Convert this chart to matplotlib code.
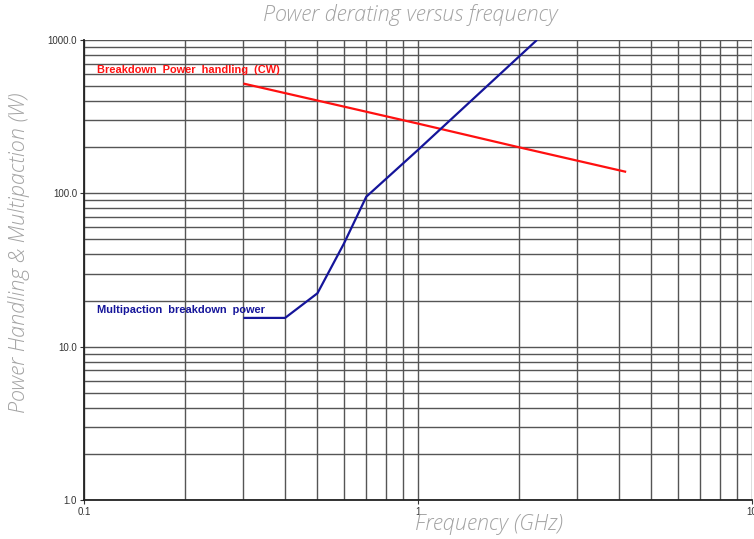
import matplotlib
matplotlib.use("Agg")
import matplotlib.pyplot as plt
from matplotlib.ticker import FixedLocator, NullFormatter

# Data (frequency in GHz, power in W)
cw_freq = [0.3, 1.0, 2.0, 4.2]
cw_power = [520, 285, 200, 138]

mp_freq = [0.3, 0.4, 0.5, 0.6, 0.7, 1.0, 2.0, 2.27]
mp_power = [15.4, 15.4, 22.3, 47, 95, 192, 775, 1000]

x_ticks = [0.1, 1, 10]
x_ticklabels = ["0.1", "1", "10"]
y_ticks = [1, 10, 100, 1000]
y_ticklabels = ["1.0", "10.0", "100.0", "1000.0"]

title = "Power derating versus frequency"
xlabel = "Frequency (GHz)"
ylabel = "Power Handling & Multipaction (W)"
cw_label = "Breakdown  Power  handling  (CW)"
mp_label = "Multipaction  breakdown  power"

W, H = 754, 539
fig = plt.figure(figsize=(W / 100, H / 100), dpi=100)
ax = fig.add_axes([84 / W, 1 - 500 / H, (752 - 84) / W, (500 - 40) / H])
ax.set_xscale("log")
ax.set_yscale("log")
ax.set_xlim(0.1, 10)
ax.set_ylim(1, 1000)

# grid lines at every minor/major decade position
minor = [m * 10.0 ** e for e in range(-1, 1) for m in range(1, 10)] + [10]
ax.xaxis.set_minor_locator(FixedLocator(minor))
yminor = [m * 10.0 ** e for e in range(0, 3) for m in range(1, 10)] + [1000]
ax.yaxis.set_minor_locator(FixedLocator(yminor))
ax.xaxis.set_minor_formatter(NullFormatter())
ax.yaxis.set_minor_formatter(NullFormatter())
ax.grid(True, which="both", color="#555555", lw=1.0)
ax.set_axisbelow(True)

ax.set_xticks(x_ticks)
ax.set_xticklabels(x_ticklabels)
ax.set_yticks(y_ticks)
ax.set_yticklabels(y_ticklabels)
ax.tick_params(which="major", length=3, width=0.8, color="#333333",
               labelsize=7, labelcolor="#333333", pad=2)
ax.tick_params(which="minor", length=0)
for lab in ax.get_xticklabels() + ax.get_yticklabels():
    lab.set_family("Liberation Sans")

for s in ["top", "right"]:
    ax.spines[s].set_visible(False)
for s in ["left", "bottom"]:
    ax.spines[s].set_color("#222222")
    ax.spines[s].set_linewidth(1.3)

ax.plot(cw_freq, cw_power, color="#ff1010", lw=1.6, solid_capstyle="butt")
ax.plot(mp_freq, mp_power, color="#15159a", lw=1.6, solid_capstyle="butt")

ax.text(0.1094, 637, cw_label, color="#ff1010", fontsize=7.9, fontweight="bold",
        family="Liberation Sans", va="center", ha="left")
ax.text(0.1094, 17.3, mp_label, color="#15159a", fontsize=7.9, fontweight="bold",
        family="Liberation Sans", va="center", ha="left")

lab_kw = dict(color="#a3a3a3", fontsize=15.6, style="italic", fontweight="light",
              family="Open Sans")
fig.text(410 / W, 1 - 15 / H, title, ha="center", va="center", **lab_kw)
fig.text(489 / W, 1 - 524 / H, xlabel, ha="center", va="center", **lab_kw)
fig.text(19 / W, 1 - 253 / H, ylabel, ha="center", va="center", rotation=90, **lab_kw)

fig.savefig("out.png", dpi=100)
